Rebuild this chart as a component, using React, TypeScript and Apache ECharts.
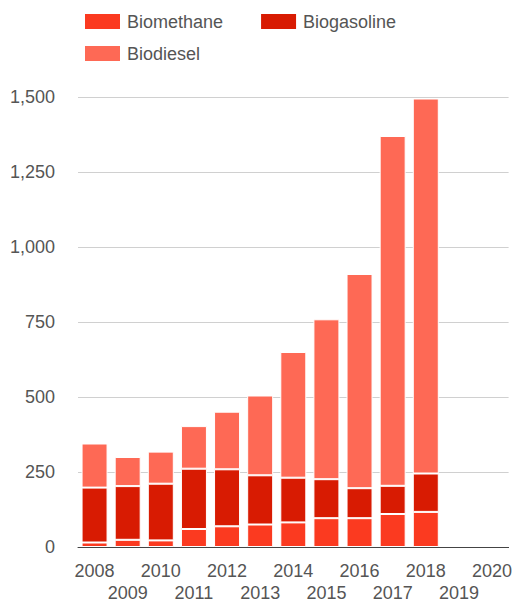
import React, { useEffect, useRef } from "react";
import * as echarts from "echarts";

const years = ["2008", "2009", "2010", "2011", "2012", "2013", "2014", "2015", "2016", "2017", "2018", "2019", "2020"];
const biomethane = [15, 24, 22, 60, 69, 75, 82, 96, 96, 110, 117, null, null];
const biogasoline = [183, 179, 189, 201, 190, 164, 149, 130, 100, 94, 128, null, null];
const biodiesel = [147, 97, 107, 142, 192, 266, 419, 533, 714, 1166, 1250, null, null];
const yTicks = [0, 250, 500, 750, 1000, 1250, 1500];

const COLORS = { biomethane: "#fb3a20", biogasoline: "#d81b02", biodiesel: "#fe6955" };
const FONT = "Liberation Sans, Arial, sans-serif";

export default function App() {
  const ref = useRef<HTMLDivElement>(null);
  useEffect(() => {
    document.body.style.margin = "0";
    if (!ref.current) return;
    const chart = echarts.init(ref.current, null, { renderer: "svg" });
    const mk = (name: string, data: (number | null)[], color: string) => ({
      name,
      type: "bar",
      stack: "total",
      data,
      barWidth: 26,
      itemStyle: { color, borderColor: "#ffffff", borderWidth: 1 },
    });
    const legendText = { fontSize: 18, color: "#555", fontFamily: FONT, padding: [0, 0, 0, 1] };
    chart.setOption({
      animation: false,
      textStyle: { fontFamily: FONT },
      legend: [
        {
          data: ["Biomethane", "Biogasoline"],
          left: 78,
          top: 7,
          itemWidth: 37,
          itemHeight: 17,
          itemGap: 36,
          icon: "rect",
          textStyle: legendText,
        },
        {
          data: ["Biodiesel"],
          left: 78,
          top: 39,
          itemWidth: 37,
          itemHeight: 17,
          icon: "rect",
          textStyle: legendText,
        },
      ],
      grid: { left: 78, right: 5, top: 97, bottom: 56, containLabel: false },
      xAxis: {
        type: "category",
        data: years,
        axisLine: { lineStyle: { color: "#444", width: 1 } },
        axisTick: { show: false },
        axisLabel: {
          interval: 0,
          margin: 13,
          fontSize: 18,
          lineHeight: 22,
          color: "#555",
          fontFamily: FONT,
          formatter: (v: string, i: number) => (i % 2 ? "\n" + v : v),
        },
      },
      yAxis: {
        type: "value",
        min: yTicks[0],
        max: yTicks[yTicks.length - 1],
        interval: 250,
        axisLine: { show: false },
        axisTick: { show: false },
        splitLine: { lineStyle: { color: "#d0d0d0", width: 1 } },
        axisLabel: {
          margin: 23,
          fontSize: 18,
          color: "#555",
          fontFamily: FONT,
          formatter: (v: number) => v.toLocaleString("en-US"),
        },
      },
      series: [
        mk("Biomethane", biomethane, COLORS.biomethane),
        mk("Biogasoline", biogasoline, COLORS.biogasoline),
        mk("Biodiesel", biodiesel, COLORS.biodiesel),
      ],
    });
    return () => chart.dispose();
  }, []);
  return <div ref={ref} style={{ width: 515, height: 604 }} />;
}
